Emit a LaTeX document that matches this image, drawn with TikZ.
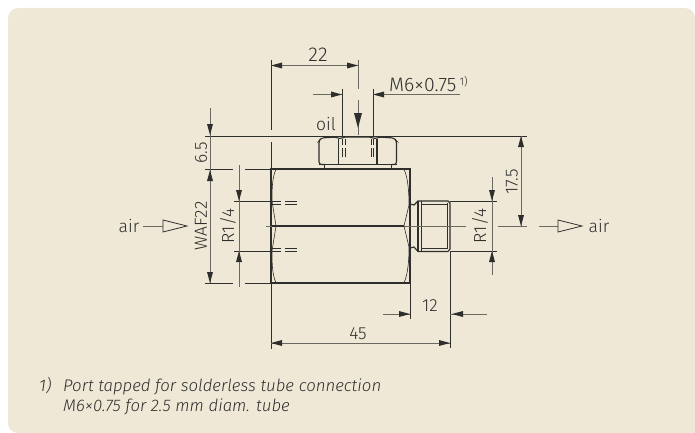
\documentclass[tikz,border=0pt]{standalone}
\usepackage{fontspec}
\setmainfont{Fira Sans Light}[ItalicFont={Fira Sans Light Italic}]
\definecolor{panelbg}{HTML}{EFE8D6}
\definecolor{inkdark}{HTML}{2E2E2C}
\definecolor{inkdim}{HTML}{6A6962}
\tikzset{
  partline/.style={inkdark,line width=1.1pt},
  thinline/.style={inkdark,line width=0.6pt},
  dimline/.style={inkdim,line width=1pt},
  dimtip/.style={inkdark,fill=inkdark,draw=none},
  dimlabel/.style={inkdark,inner sep=0pt,font=\fontsize{17.5}{20}\selectfont},
  flowtip/.style={inkdark,line width=0.8pt,fill=panelbg},
  notetext/.style={inkdark,anchor=base west,inner sep=0pt,font=\fontsize{16.8}{20}\selectfont\itshape},
}
% arrow head drawn with its point on the given coordinate
\newcommand{\dimhead}[2]{\fill [dimtip,rotate around={#2:(#1)}] (#1) -- ++(-11,-3) -- ++(0,6) -- cycle;}
\begin{document}
\begin{tikzpicture}[x=1pt,y=-1pt]
\useasboundingbox (0,0) rectangle (695,433);
\fill [panelbg,rounded corners=10pt] (8,8) rectangle (695,433);
\fill [panelbg] (680,420) rectangle (695,433);
% coordinates
\coordinate (bodyLT) at (271,169);
\coordinate (bodyRT) at (410,169);
\coordinate (bodyRB) at (410,283);
\coordinate (bodyLB) at (271,283);
\coordinate (topL) at (205,136);
\coordinate (topR) at (527,136);
% nut
\draw [partline,rounded corners=2.5pt] (324.5,164.5) -- (319,164.5) -- (319,141) -- (321,138) -- (336,137) -- (340,139) -- (344,137) -- (371,137) -- (375,139) -- (379,137) -- (394,138) -- (396.5,141) -- (396.5,164.5) -- (391.5,164.5);
\draw [partline] (319,164.5) -- (396.5,164.5);
\draw [partline] (338.5,139) -- (338.5,164.5);
\draw [partline] (377,139) -- (377,164.5);
\draw [thinline] (324.5,165) -- (324.5,169);
\draw [thinline] (391.5,165) -- (391.5,169);
\foreach \xa in {342.5,345,371,373.5}
  \draw [thinline] (\xa,139) -- (\xa,145) (\xa,148) -- (\xa,157);
% body
\draw [partline] (bodyLT) -- (bodyRT) -- (bodyRB) -- (bodyLB) -- cycle;
\draw [partline] (272,226) -- (404,226);
\draw [thinline] (276,169) .. controls (272,178) and (272,190) .. (272,201) -- (276,226) -- (272,251) .. controls (272,262) and (272,274) .. (276,283);
\draw [thinline] (404,169) .. controls (408,178) and (409,192) .. (409,205) -- (404,226) -- (409,247) .. controls (409,260) and (408,274) .. (404,283);
\foreach \ya in {201,204,248,251}
  \draw [thinline] (271,\ya) -- (281,\ya) (285,\ya) -- (297,\ya);
% fitting
\draw [partline] (410,204) -- (414,205) -- (418,201) -- (448,201) -- (450,203) -- (450,249) -- (448,251.5) -- (418,251.5) -- (414,247) -- (410,248);
\draw [partline] (418,201) -- (418,251.5);
\draw [thinline] (421,204) -- (448,204) (421,248) -- (448,248) (421,201) -- (421,251.5) (447.5,203) -- (447.5,249);
% extension lines
\draw [thinline] (topL) -- (topR);
\draw [thinline] (205,169) -- (233,169) (245,169) -- (bodyLT);
\draw [thinline] (205,283) -- (233,283) (245,283) -- (bodyLB);
\draw [thinline] (271,60) -- (271,130) (271,142) -- (271,169);
\draw [thinline] (bodyLB) -- (271,349);
\draw [thinline] (234,201) -- (271,201) (234,251) -- (271,251);
\draw [thinline] (342,89) -- (342,137) (373,89) -- (373,137);
\draw [thinline] (bodyRB) -- (410,319);
\draw [thinline] (450.5,251) -- (450.5,348);
\draw [thinline] (450,201) -- (497,201) (450,251) -- (497,251);
\draw [dimline] (358,60) -- (358,89) (358,100) -- (358,135);
\draw [dimline] (266,226) -- (272,226);
\draw [dimline] (404,226) -- (466,226) (498,226) -- (527,226);
% dimensions
\draw [dimline] (271,65.5) -- (358,65.5);
\dimhead{271,65.5}{180}
\dimhead{358,65.5}{0}
\draw [dimline] (313,94.5) -- (342,94.5) (373,94.5) -- (460,94.5);
\dimhead{342,94.5}{0}
\dimhead{373,94.5}{180}
\fill [dimtip] (358,128) -- ++(-4,-15) -- ++(8,0) -- cycle;
\draw [dimline] (210,108) -- (210,283);
\dimhead{210,135}{270}
\dimhead{210,170}{90}
\dimhead{210,283}{270}
\draw [dimline] (239,165) -- (239,287);
\dimhead{239,201}{270}
\dimhead{239,251}{90}
\draw [dimline] (492,177) -- (492,275);
\dimhead{492,201}{270}
\dimhead{492,251}{90}
\draw [dimline] (521,136) -- (521,226);
\dimhead{521,136}{90}
\dimhead{521,226}{270}
\draw [dimline] (383,314) -- (410,314) (450,314) -- (487,314);
\dimhead{410,314}{0}
\dimhead{452,314}{180}
\draw [dimline] (271,343) -- (450,343);
\dimhead{271,343}{180}
\dimhead{450,343}{0}
% labels
\node [dimlabel,font=\fontsize{20}{22}\selectfont] (dimA) at (318,55) {22};
\node [dimlabel,anchor=base west,font=\fontsize{19.5}{22}\selectfont] (dimB) at (389,92) {M6×0.75\,\raisebox{6pt}{\fontsize{11}{12}\selectfont 1)}};
\node [dimlabel] (oilLabel) at (326,124) {oil};
\node [dimlabel,rotate=90] (dimC) at (201,153) {6.5};
\node [dimlabel,rotate=90] (dimD) at (201,226) {WAF22};
\node [dimlabel,rotate=90] (dimE) at (228,226) {R1/4};
\node [dimlabel,rotate=90] (dimF) at (480,226) {R1/4};
\node [dimlabel,rotate=90] (dimG) at (512,182) {17.5};
\node [dimlabel] (dimH) at (430,306) {12};
\node [dimlabel] (dimJ) at (358,334) {45};
\node [dimlabel] (airIn) at (129,226) {air};
\node [dimlabel] (airOut) at (599,226) {air};
% air flow
\draw [dimline] (143,226) -- (163,226);
\draw [flowtip] (163,220) -- (187,226) -- (163,232) -- cycle;
\draw [dimline] (539,226) -- (558,226);
\draw [flowtip] (558,220) -- (582,226) -- (558,232) -- cycle;
% footnote
\node [notetext] (noteA) at (39,391) {1)};
\node [notetext] (noteB) at (63,391) {Port tapped for solderless tube connection};
\node [notetext] (noteC) at (63,411) {M6×0.75 for 2.5 mm diam. tube};
\end{tikzpicture}
\end{document}
